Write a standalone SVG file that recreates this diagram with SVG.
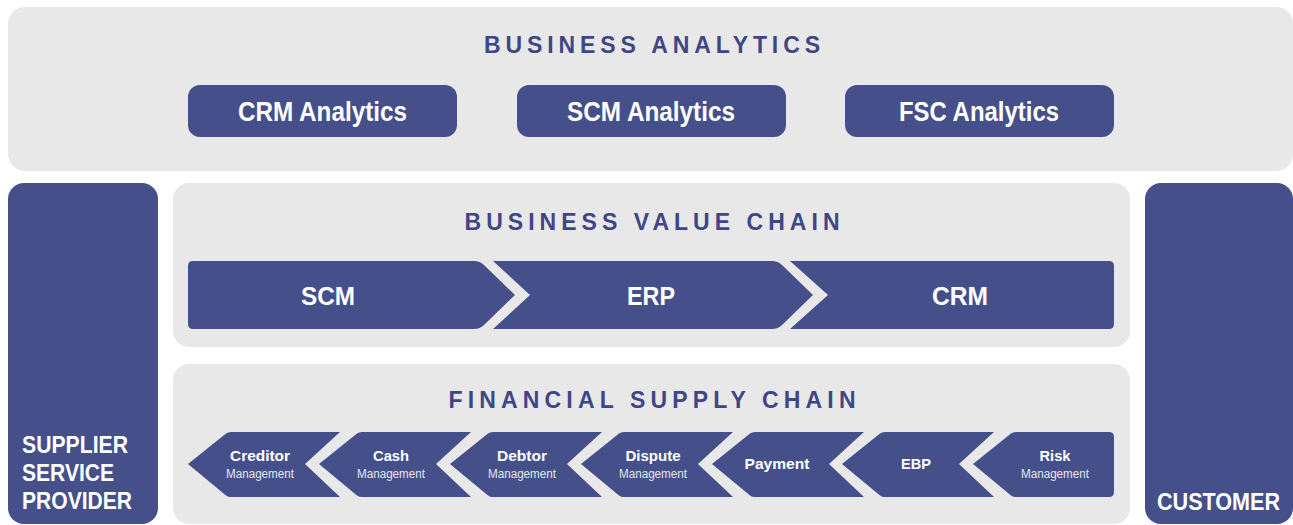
<svg xmlns="http://www.w3.org/2000/svg" width="1293" height="525" viewBox="0 0 1293 525">
  <style>
    .panel { fill: #e8e8e8; }
    .block { fill: #45508b; }
    .title { font-family: "Liberation Sans", Arial, sans-serif; font-weight: bold; font-size: 23px; fill: #3f4687; text-anchor: middle; }
    .lbl { font-family: "Liberation Sans Narrow", "Liberation Sans", Arial, sans-serif; font-weight: bold; fill: #ffffff; text-anchor: middle; }
    .big { font-size: 26px; }
    .xl { font-size: 28px; }
    .side { font-family: "Liberation Sans Narrow", "Liberation Sans", Arial, sans-serif; font-weight: bold; font-size: 24px; fill: #ffffff; }
    .sm { font-size: 15px; }
    .sub { font-family: "Liberation Sans Narrow", "Liberation Sans", Arial, sans-serif; font-size: 12px; fill: #e4e6f0; text-anchor: middle; }
  </style>
  <defs>
    <!-- left-pointing chevron for the financial supply chain steps -->
    <path id="fscChevron" d="M0,32 L38,1.5 Q40,0 43,0 L152,0 L117,32 L152,65 L43,65 Q40,65 38,63.5 Z"/>
  </defs>

  <rect width="1293" height="525" fill="#ffffff"/>

  <!-- Business analytics layer -->
  <g id="business-analytics">
    <rect class="panel" x="8" y="7" width="1285" height="164" rx="17"/>
    <text class="title" x="652" y="53" textLength="336" lengthAdjust="spacing">BUSINESS ANALYTICS</text>
  </g>
  <g id="crm-analytics">
    <rect class="block" x="188" y="85" width="269" height="52" rx="12"/>
    <text class="lbl xl" x="322.5" y="121" textLength="169" lengthAdjust="spacingAndGlyphs">CRM Analytics</text>
  </g>
  <g id="scm-analytics">
    <rect class="block" x="517" y="85" width="269" height="52" rx="12"/>
    <text class="lbl xl" x="651" y="121" textLength="168" lengthAdjust="spacingAndGlyphs">SCM Analytics</text>
  </g>
  <g id="fsc-analytics">
    <rect class="block" x="845" y="85" width="269" height="52" rx="12"/>
    <text class="lbl xl" x="979" y="121" textLength="160" lengthAdjust="spacingAndGlyphs">FSC Analytics</text>
  </g>

  <!-- Side parties -->
  <g id="supplier">
    <rect class="block" x="8" y="183" width="150" height="341" rx="16"/>
    <text class="side" x="22" y="453" textLength="106" lengthAdjust="spacingAndGlyphs">SUPPLIER</text>
    <text class="side" x="22" y="481" textLength="92" lengthAdjust="spacingAndGlyphs">SERVICE</text>
    <text class="side" x="22" y="509" textLength="110" lengthAdjust="spacingAndGlyphs">PROVIDER</text>
  </g>
  <g id="customer">
    <rect class="block" x="1145" y="183" width="148" height="341" rx="16"/>
    <text class="side" x="1157" y="510" textLength="123" lengthAdjust="spacingAndGlyphs">CUSTOMER</text>
  </g>

  <!-- Business value chain -->
  <g id="business-value-chain">
    <rect class="panel" x="173" y="183" width="957" height="164" rx="16"/>
    <text class="title" x="652" y="230" textLength="375" lengthAdjust="spacing">BUSINESS VALUE CHAIN</text>
  </g>
  <g id="scm">
    <path class="block" d="M193,261 L474,261 Q480,261 484,265 L515,295 L484,325 Q480,329 474,329 L193,329 Q188,329 188,324 L188,266 Q188,261 193,261 Z"/>
    <text class="lbl big" x="328" y="305" textLength="54" lengthAdjust="spacingAndGlyphs">SCM</text>
  </g>
  <g id="erp">
    <path class="block" d="M493,261 L772,261 Q778,261 782,265 L813,295 L782,325 Q778,329 772,329 L493,329 L530,295 Z"/>
    <text class="lbl big" x="651" y="305" textLength="48" lengthAdjust="spacingAndGlyphs">ERP</text>
  </g>
  <g id="crm">
    <path class="block" d="M790,261 L1109,261 Q1114,261 1114,266 L1114,324 Q1114,329 1109,329 L790,329 L828,295 Z"/>
    <text class="lbl big" x="960" y="305" textLength="56" lengthAdjust="spacingAndGlyphs">CRM</text>
  </g>

  <!-- Financial supply chain -->
  <g id="financial-supply-chain">
    <rect class="panel" x="173" y="364" width="957" height="160" rx="16"/>
    <text class="title" x="652" y="408" textLength="407" lengthAdjust="spacing">FINANCIAL SUPPLY CHAIN</text>
  </g>
  <g id="creditor">
    <use href="#fscChevron" class="block" x="188" y="432"/>
    <text class="lbl sm" x="260" y="461" textLength="60" lengthAdjust="spacingAndGlyphs">Creditor</text>
    <text class="sub" x="260" y="478" textLength="68" lengthAdjust="spacingAndGlyphs">Management</text>
  </g>
  <g id="cash">
    <use href="#fscChevron" class="block" x="319" y="432"/>
    <text class="lbl sm" x="391" y="461" textLength="36" lengthAdjust="spacingAndGlyphs">Cash</text>
    <text class="sub" x="391" y="478" textLength="68" lengthAdjust="spacingAndGlyphs">Management</text>
  </g>
  <g id="debtor">
    <use href="#fscChevron" class="block" x="450" y="432"/>
    <text class="lbl sm" x="522" y="461" textLength="50" lengthAdjust="spacingAndGlyphs">Debtor</text>
    <text class="sub" x="522" y="478" textLength="68" lengthAdjust="spacingAndGlyphs">Management</text>
  </g>
  <g id="dispute">
    <use href="#fscChevron" class="block" x="581" y="432"/>
    <text class="lbl sm" x="653" y="461" textLength="55" lengthAdjust="spacingAndGlyphs">Dispute</text>
    <text class="sub" x="653" y="478" textLength="68" lengthAdjust="spacingAndGlyphs">Management</text>
  </g>
  <g id="payment">
    <use href="#fscChevron" class="block" x="712" y="432"/>
    <text class="lbl sm" x="777" y="469" textLength="65" lengthAdjust="spacingAndGlyphs">Payment</text>
  </g>
  <g id="ebp">
    <use href="#fscChevron" class="block" x="842" y="432"/>
    <text class="lbl sm" x="916" y="469" textLength="30" lengthAdjust="spacingAndGlyphs">EBP</text>
  </g>
  <g id="risk">
    <path class="block" d="M973,464 L1011,433.5 Q1013,432 1016,432 L1109,432 Q1114,432 1114,437 L1114,492 Q1114,497 1109,497 L1016,497 Q1013,497 1011,495.5 Z"/>
    <text class="lbl sm" x="1055" y="461" textLength="31" lengthAdjust="spacingAndGlyphs">Risk</text>
    <text class="sub" x="1055" y="478" textLength="68" lengthAdjust="spacingAndGlyphs">Management</text>
  </g>

  <!-- no connectors: the flow is carried by the chevron shapes -->
  <g id="connectors"/>
</svg>
